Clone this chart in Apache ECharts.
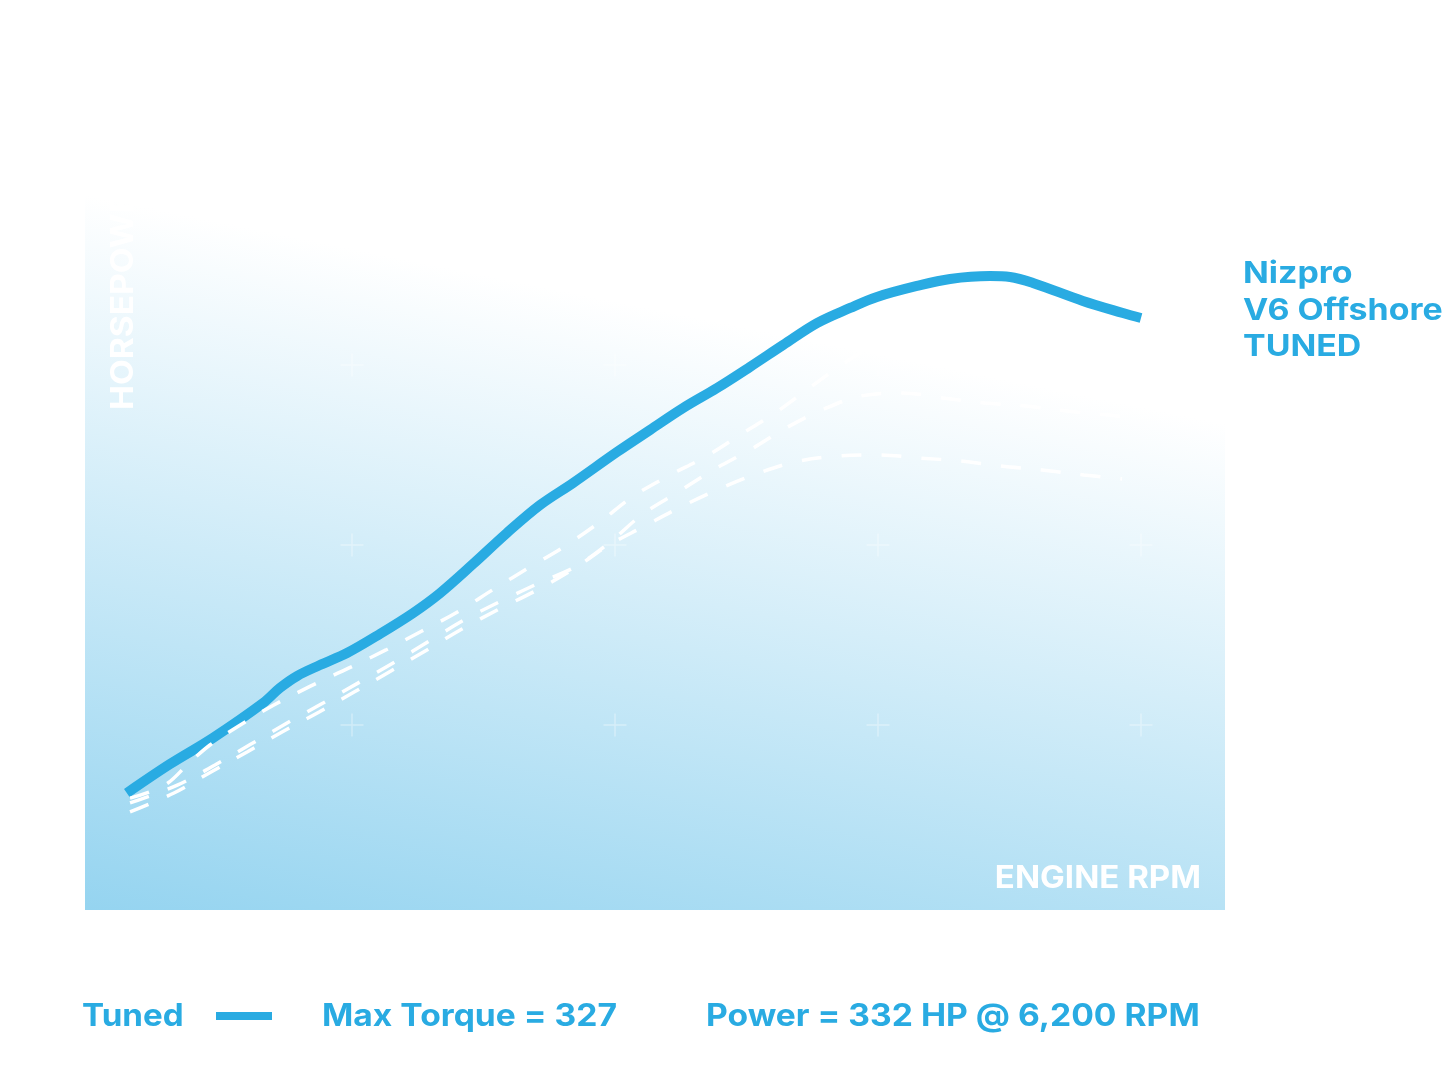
<!DOCTYPE html>
<html><head><meta charset="utf-8">
<script src="https://cdn.jsdelivr.net/npm/echarts@6/dist/echarts.min.js"></script>
<style>html,body{margin:0;padding:0;background:#fff}#c{width:1445px;height:1084px}</style>
</head><body><div id="c"></div>
<script>
// Tuned (solid blue) curve
const tunedRpm = [1144,1308,1471,1662,1726,1791,1878,1981,2106,2232,2335,2460,2589,2715,2840,3008,3133,3259,3388,3513,3639,3768,3894,3996,4148,4274,4426,4502,4589,4779,4931,5000];
const tunedHp  = [62.2,78.3,92.8,112.2,120.6,127.2,133.3,140.0,150.6,162.2,173.3,189.4,206.7,222.2,234.4,251.7,263.9,276.1,287.2,298.9,311.1,323.3,331.7,337.8,343.9,347.8,349.4,348.9,345.6,335.6,328.9,326.1];
// Dashed comparison runs
const runARpm = [1156,1289,1384,1460,1563,1703,1844,1989,2129,2266,2407,2540,2677,2810,2943,3065,3202,3342,3475,3608,3734,3867,4008,4160,4350,4540,4768,4939];
const runAHp  = [59.4,66.7,79.4,88.9,98.9,111.1,121.7,131.7,141.7,152.2,163.3,175.6,187.8,199.4,212.8,226.7,238.3,248.9,261.1,273.3,286.7,300.6,312.8,320.6,325.0,323.9,319.4,315.6];
const runBRpm = [1156,1338,1479,1616,1753,1890,2030,2163,2300,2433,2574,2719,2848,2977,3106,3240,3373,3513,3650,3787,3935,4095,4247,4407,4563,4719,4878,4939];
const runBHp  = [56.7,66.7,77.8,89.4,101.1,112.2,123.9,135.0,147.2,158.9,169.4,179.4,187.8,201.1,217.2,229.4,241.7,252.8,265.0,275.0,282.8,284.4,281.7,278.9,277.2,274.4,272.2,271.1];
const runCRpm = [1156,1323,1464,1601,1734,1875,2008,2148,2285,2418,2559,2696,2848,2977,3106,3243,3388,3536,3684,3844,4000,4160,4312,4468,4624,4783,4928];
const runCHp  = [51.7,62.2,73.9,85.0,96.1,107.2,118.3,130.0,141.7,153.3,164.4,174.4,187.2,200.0,210.0,220.6,230.6,239.4,246.1,249.4,250.0,248.3,246.7,243.9,241.7,238.9,236.7];
// grid cross markers
const markerRpm = [2000,3000,4000,5000];
const markerHp = [100,200,300];
// texts
const yName = 'HORSEPOWER';
const xName = 'ENGINE RPM';
const titleLines = ['Nizpro','V6 Offshore','TUNED'];
const legendName = 'Tuned';
const torqueText = 'Max Torque = 327';
const powerText = 'Power = 332 HP @ 6,200 RPM';

const BLUE = '#29abe2';
const FONT = 'Inter';
const zip = (a,b) => a.map((v,i)=>[v,b[i]]);
const markers = [];
markerRpm.forEach(x => markerHp.forEach(y => markers.push([x,y])));

function label(text, x, y, size, color, align, sx, extra){
  return Object.assign({type:'text', x:x, y:y, scaleX:sx, z:5,
    style:{text:text, fill:color, font:'bold '+size+'px '+FONT, textAlign:align, textVerticalAlign:'middle'}}, extra||{});
}

const chart = echarts.init(document.getElementById('c'), null, {renderer:'canvas'});
const dashed = { color:'#ffffff', width:3.5, type:[20,20] };
chart.setOption({
  animation:false,
  backgroundColor:'#ffffff',
  grid:{left:89, right:304, top:185, bottom:179},
  xAxis:{type:'value', min:1000, max:5000, show:false},
  yAxis:{type:'value', min:0, max:400, show:false},
  graphic:[
    {type:'rect', z:-10, silent:true, shape:{x:85,y:190,width:1140,height:720},
     style:{fill:new echarts.graphic.LinearGradient(0,1,0.121,0.045,[
       {offset:0,color:'#95d4f0'},{offset:1,color:'#ffffff'}])}},
    label(yName, 124, 410, 31, '#ffffff', 'left', 1.08, {rotation:Math.PI/2}),
    label(xName, 1201, 879, 31, '#ffffff', 'right', 1.065),
    label(titleLines[0], 1243, 274, 30, BLUE, 'left', 1.13),
    label(titleLines[1], 1243, 311, 30, BLUE, 'left', 1.13),
    label(titleLines[2], 1243, 347, 30, BLUE, 'left', 1.13),
    label(legendName, 82, 1017, 31, BLUE, 'left', 1.07),
    {type:'rect', shape:{x:216,y:1012,width:56,height:8}, style:{fill:BLUE}},
    label(torqueText, 322, 1017, 31, BLUE, 'left', 1.085),
    label(powerText, 706, 1017, 31, BLUE, 'left', 1.085)
  ],
  series:[
    {type:'scatter', data:markers, silent:true, z:1,
     symbol:'path://M11.25,0h1.5v11.25h11.25v1.5h-11.25v11.25h-1.5v-11.25h-11.25v-1.5h11.25z',
     symbolSize:23, itemStyle:{color:'rgba(255,255,255,0.45)'}},
    {type:'line', name:legendName, data:zip(tunedRpm,tunedHp), smooth:0.35, showSymbol:false, clip:false, z:2,
     lineStyle:{color:BLUE, width:10}},
    {type:'line', data:zip(runARpm,runAHp), smooth:0.35, showSymbol:false, z:3, lineStyle:dashed},
    {type:'line', data:zip(runBRpm,runBHp), smooth:0.35, showSymbol:false, z:3, lineStyle:dashed},
    {type:'line', data:zip(runCRpm,runCHp), smooth:0.35, showSymbol:false, z:3, lineStyle:dashed}
  ]
});
</script></body></html>
